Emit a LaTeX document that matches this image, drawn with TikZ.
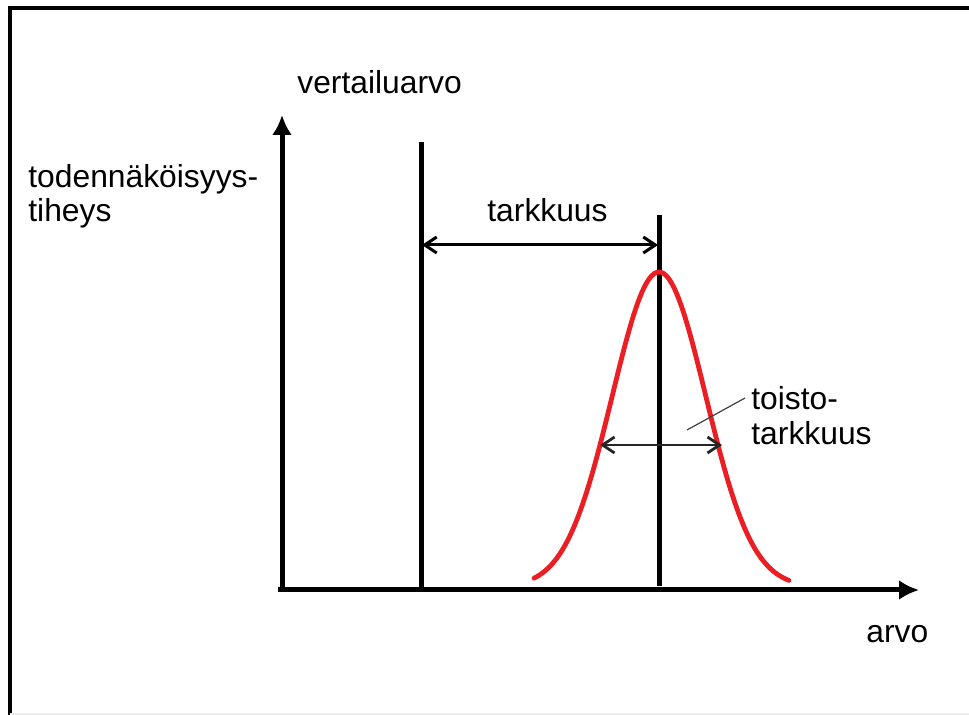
\documentclass[tikz,border=0pt]{standalone}
\usepackage{fontspec}
\setmainfont{Liberation Sans}
\usetikzlibrary{arrows.meta}
\definecolor{curvered}{RGB}{235,30,35}
\tikzset{
  axisline/.style={line width=2.5pt,-{Latex[length=10pt,width=10pt]}},
  refline/.style={line width=2.5pt},
  spanarrow/.style={line width=1.5pt,{Straight Barb[length=6pt,width=8pt]}-{Straight Barb[length=6pt,width=8pt]}},
  lbl/.style={font=\fontsize{15.9}{17.5}\selectfont,inner sep=0pt,anchor=base west}
}
\begin{document}
\begin{tikzpicture}[x=0.5pt,y=-0.5pt]
    \useasboundingbox (0,0) rectangle (969,715);
    % frame
    \draw[line width=2pt] (10,715) -- (10,8) -- (969,8);
    \draw[black!8,line width=1pt] (10,713.5) -- (969,713.5);
    % axes
    \coordinate (ybot) at (282,592);
    \coordinate (ytip) at (282,115);
    \coordinate (xbot) at (278,590);
    \coordinate (xtip) at (919,590);
    \draw[axisline] (ybot) -- (ytip);
    \draw[axisline] (xbot) -- (xtip);
    % reference value and mean
    \coordinate (reftop) at (421,142);
    \coordinate (refbot) at (421,590);
    \coordinate (meantop) at (659,215);
    \coordinate (meanbot) at (659,586);
    \draw[refline] (reftop) -- (refbot);
    \draw[refline] (meantop) -- (meanbot);
    % density curve
    \draw[curvered,line width=2.4pt,line cap=round]
      plot[domain=534:789,samples=90,smooth] (\x,{587-315*exp(-((\x-659)/66.1)^2)});
    % accuracy
    \coordinate (accl) at (422,245);
    \coordinate (accr) at (658,245);
    \draw[spanarrow] (accl) -- (accr);
    % precision
    \coordinate (precl) at (600,445);
    \coordinate (precr) at (722,445);
    \draw[spanarrow,line width=1.4pt,black!85] (precl) -- (precr);
    % labels
    \node[lbl] (vert) at (297,94) {vertailuarvo};
    \node[lbl] (dens1) at (28,188) {todennäköisyys-};
    \node[lbl] (dens2) at (28,222) {tiheys};
    \node[lbl] (acc) at (487,222) {tarkkuus};
    \node[lbl] (prec1) at (751,410) {toisto-};
    \node[lbl] (prec2) at (751,445) {tarkkuus};
    \node[lbl] (xlab) at (866,642) {arvo};
    % leader
    \coordinate (leadin) at (687,430);
    \coordinate (leadout) at (745,398);
    \draw[black!75,line width=0.6pt] (leadin) -- (leadout);
  \end{tikzpicture}
\end{document}
